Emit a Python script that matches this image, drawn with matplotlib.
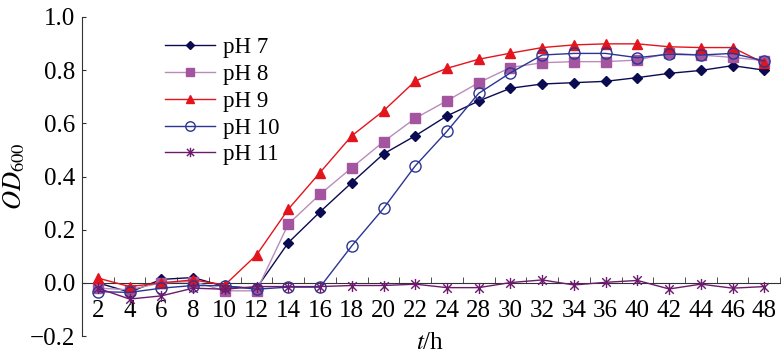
import matplotlib
matplotlib.use("Agg")
import matplotlib.pyplot as plt
from matplotlib.path import Path
import numpy as np

hours = ["2", "4", "6", "8", "10", "12", "14", "16", "18", "20", "22", "24",
         "28", "30", "32", "34", "36", "40", "42", "44", "46", "48"]

ph7 = [0.00, -0.035, 0.013, 0.02, -0.014, -0.02, 0.151, 0.267, 0.377, 0.485, 0.553,
       0.628, 0.684, 0.732, 0.748, 0.753, 0.758, 0.772, 0.788, 0.799, 0.817, 0.80]
ph8 = [-0.02, -0.026, 0.0, 0.005, -0.03, -0.03, 0.221, 0.333, 0.433, 0.531, 0.619,
       0.685, 0.753, 0.81, 0.828, 0.832, 0.832, 0.838, 0.864, 0.857, 0.848, 0.836]
ph9 = [0.018, -0.014, 0.0, 0.011, -0.008, 0.105, 0.277, 0.415, 0.553, 0.647, 0.759,
       0.807, 0.841, 0.864, 0.885, 0.895, 0.899, 0.899, 0.888, 0.885, 0.885, 0.826]
ph10 = [-0.033, -0.036, -0.02, -0.01, -0.011, -0.024, -0.016, -0.016, 0.139, 0.28, 0.44,
        0.57, 0.713, 0.79, 0.857, 0.863, 0.863, 0.847, 0.86, 0.857, 0.863, 0.835]
ph11 = [-0.02, -0.061, -0.049, -0.02, -0.024, -0.014, -0.014, -0.014, -0.01, -0.01, -0.005,
        -0.018, -0.018, 0.001, 0.011, -0.008, 0.002, 0.009, -0.023, -0.005, -0.02, -0.014]

labels = ["pH 7", "pH 8", "pH 9", "pH 10", "pH 11"]

plt.rcParams['font.family'] = ['Liberation Serif', 'DejaVu Serif']
plt.rcParams['mathtext.fontset'] = 'stix'

# Excel-style star marker: x plus vertical bar
star = Path([(-1, -1), (1, 1), (-1, 1), (1, -1), (0, -1.3), (0, 1.3)],
            [Path.MOVETO, Path.LINETO, Path.MOVETO, Path.LINETO, Path.MOVETO, Path.LINETO])

fig = plt.figure(figsize=(7.81, 3.54), dpi=100)
ax = fig.add_axes([0.105, 0.0508, 0.894, 0.9012])
x = np.arange(len(hours))

ax.plot(x, ph7, color='#0b0b52', lw=1.0, marker='D', ms=5, mfc='#0b0b52', mec='#0b0b52', label=labels[0], zorder=3)
ax.plot(x, ph8, color='#bb8cba', lw=1.0, marker='s', ms=7, mfc='#a4559f', mec='#a4559f', label=labels[1], zorder=3)
ax.plot(x, ph9, color='#e3141c', lw=1.0, marker='^', ms=7.5, mfc='#e3141c', mec='#e3141c', label=labels[2], zorder=3)
ax.plot(x, ph10, color='#2b3592', lw=1.0, marker='o', ms=8, mfc='none', mec='#2b3592', mew=1.0, label=labels[3], zorder=3)
ax.plot(x, ph11, color='#6c1a6e', lw=1.0, marker=star, ms=8, mec='#6c1a6e', mew=1.0, label=labels[4], zorder=3)

ax.set_xlim(-0.5, len(hours) - 0.5)
ax.set_ylim(-0.2, 1.0)
ax.spines['top'].set_visible(False)
ax.spines['right'].set_visible(False)
ax.spines['bottom'].set_position(('data', 0))
ax.spines['bottom'].set_color('#333333')
ax.spines['left'].set_color('#333333')

ax.set_xticks(x)
ax.set_xticklabels(hours)
ax.set_xticks(np.arange(len(hours) + 1) - 0.5, minor=True)
ax.tick_params(axis='x', which='major', length=0, pad=12, labelsize=18)
ax.tick_params(axis='x', which='minor', direction='in', length=4, color='#333333')
ax.set_yticks([-0.2, 0.0, 0.2, 0.4, 0.6, 0.8, 1.0])
ax.set_yticklabels(["\u22120.2", "0.0", "0.2", "0.4", "0.6", "0.8", "1.0"])
ax.tick_params(axis='y', direction='in', length=3, pad=5, labelsize=18, color='#333333')

ax.set_ylabel(r'$OD_{600}$', fontsize=19, labelpad=2)
fig.text(0.551, 0.0, r'$t$/h', fontsize=18, ha='center', va='bottom')

leg = ax.legend(loc='upper left', bbox_to_anchor=(0.106, 0.965), frameon=False, fontsize=16.5,
                handlelength=2.18, labelspacing=0.25, handletextpad=0.35, borderaxespad=0)
for h in leg.legend_handles:
    h.set_markersize(h.get_markersize() * 0.85)

fig.savefig('out.png', dpi=100)
